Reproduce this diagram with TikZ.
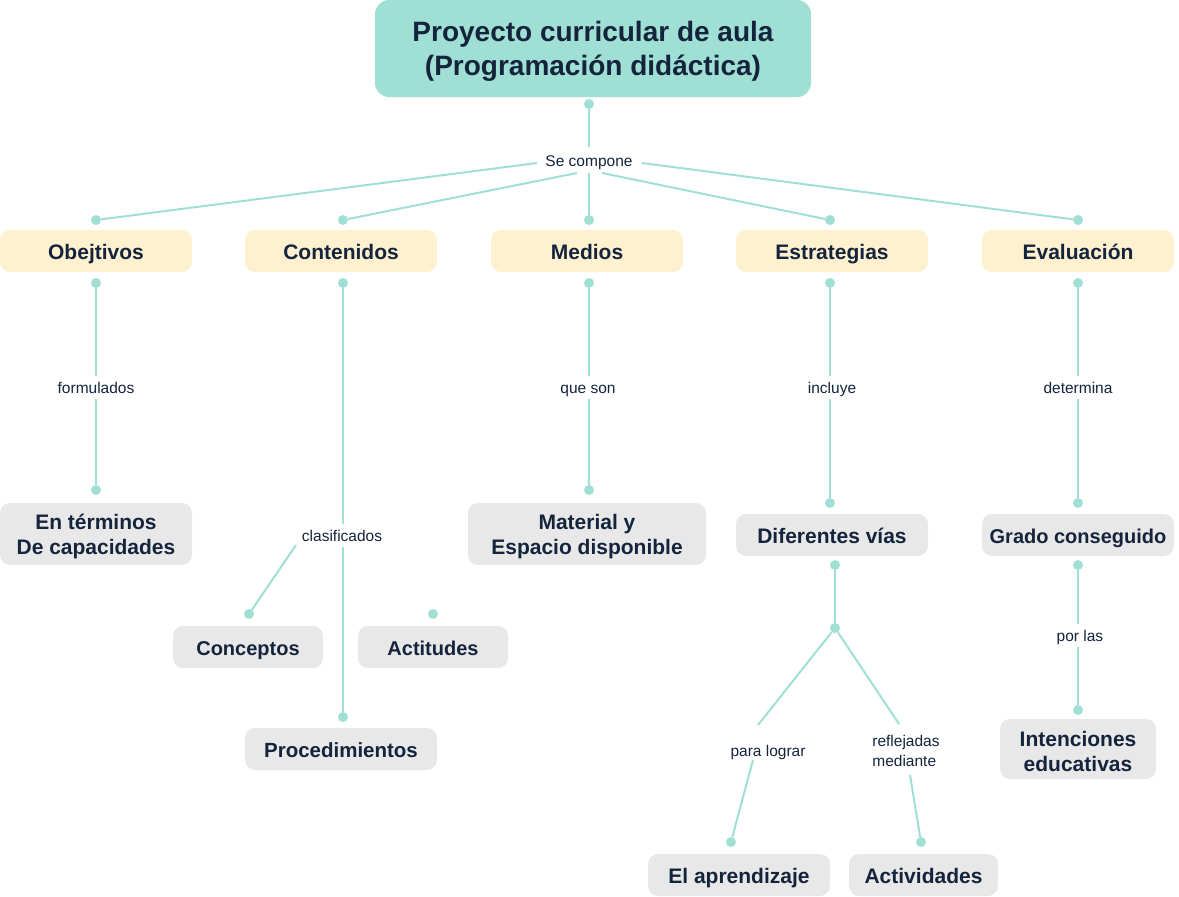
\documentclass[tikz,border=0pt]{standalone}
\usepackage{fontspec}
\setmainfont{Liberation Sans}
\definecolor{ink}{HTML}{15243D}
\definecolor{tealc}{HTML}{9FDFD4}
\definecolor{yel}{HTML}{FFF1D0}
\definecolor{gry}{HTML}{E8E8E8}
\newcommand{\lowr}[1]{\rule{0pt}{#1}}
\begin{document}
\begin{tikzpicture}[x=1pt,y=-1pt,
  box/.style={rectangle, rounded corners=10pt, inner sep=0pt, align=center, text=ink,
    font=\fontsize{21}{25}\selectfont\bfseries},
  one/.style={text height=21pt, text depth=4.5pt},
  cat/.style={box, one, fill=yel, minimum width=192pt, minimum height=42pt},
  leaf/.style={box, fill=gry, minimum height=42pt},
  dot/.style={circle, fill=tealc, inner sep=0pt, minimum size=10pt},
  lbl/.style={fill=white, text=ink, font=\fontsize{15.5}{19}\selectfont, inner xsep=3pt, inner ysep=2pt,
    text height=15.5pt, text depth=3.5pt},
  con/.style={draw=tealc, line width=2pt}]
\useasboundingbox (0,0) rectangle (1179,897);
% main box
\node[box, fill=tealc, rounded corners=14pt, minimum width=436pt, minimum height=97pt,
  font=\fontsize{28}{34}\selectfont\bfseries] (top) at (593,48.5) {\lowr{25pt}Proyecto curricular de aula\\(Programación didáctica)};
% categories
\node[cat] (obj) at (96,251) {Obejtivos};
\node[cat] (cont) at (341,251) {Contenidos};
\node[cat] (med) at (587,251) {Medios};
\node[cat] (est) at (832,251) {Estrategias};
\node[cat] (eva) at (1078,251) {Evaluación};
% leaves
\node[leaf, minimum width=192pt, minimum height=62pt] (cap) at (96,534) {\lowr{21pt}En términos\\De capacidades};
\node[leaf, minimum width=238pt, minimum height=62pt] (mat) at (587,534) {\lowr{21pt}Material y\\Espacio disponible};
\node[leaf, one, minimum width=192pt] (vias) at (832,535) {Diferentes vías};
\node[leaf, one, minimum width=192pt, font=\fontsize{20}{24}\selectfont\bfseries] (grado) at (1078,535) {Grado conseguido};
\node[leaf, one, minimum width=150pt, font=\fontsize{20}{24}\selectfont\bfseries] (conc) at (248,647) {Conceptos};
\node[leaf, one, minimum width=150pt, font=\fontsize{20}{24}\selectfont\bfseries] (act) at (433,647) {Actitudes};
\node[leaf, one, minimum width=192pt, font=\fontsize{20.5}{24}\selectfont\bfseries] (proc) at (341,749) {Procedimientos};
\node[leaf, minimum width=156pt, minimum height=60pt] (int) at (1078,749) {\lowr{21pt}Intenciones\\educativas};
\node[leaf, one, minimum width=182pt] (apr) at (739,875) {El aprendizaje};
\node[leaf, one, minimum width=149pt] (acv) at (923.5,875) {Actividades};
% dots
\node[dot] (d0) at (589,104) {};
\node[dot] (d1) at (96,220) {};
\node[dot] (d2) at (343,220) {};
\node[dot] (d3) at (589,220) {};
\node[dot] (d4) at (830,220) {};
\node[dot] (d5) at (1078,220) {};
\node[dot] (o1) at (96,283) {};
\node[dot] (o2) at (96,490) {};
\node[dot] (c1) at (343,283) {};
\node[dot] (c2) at (249,614) {};
\node[dot] (c3) at (433,614) {};
\node[dot] (c4) at (343,717) {};
\node[dot] (m1) at (589,283) {};
\node[dot] (m2) at (589,490) {};
\node[dot] (e1) at (830,283) {};
\node[dot] (e2) at (830,503) {};
\node[dot] (e3) at (835,565) {};
\node[dot] (e4) at (835,628) {};
\node[dot] (e5) at (731,842) {};
\node[dot] (e6) at (921,842) {};
\node[dot] (v1) at (1078,283) {};
\node[dot] (v2) at (1078,503) {};
\node[dot] (v3) at (1078,565) {};
\node[dot] (v4) at (1078,710) {};
% "Se compone" fan
\node[lbl] (se) at (589,160) {Se compone};
\coordinate (seL) at (537,163);
\coordinate (seR) at (642,163);
\coordinate (seBL) at (577,173);
\coordinate (seBR) at (602,173);
\coordinate (seB) at (589,173);
\coordinate (seT) at (589,147);
\draw[con] (d0) -- (seT);
\draw[con] (seL) -- (d1);
\draw[con] (seBL) -- (d2);
\draw[con] (seB) -- (d3);
\draw[con] (seBR) -- (d4);
\draw[con] (seR) -- (d5);
% vertical chains
\draw[con] (o1) -- (o2);
\draw[con] (c1) -- (c4);
\draw[con] (m1) -- (m2);
\draw[con] (e1) -- (e2);
\draw[con] (e3) -- (e4);
\draw[con] (v1) -- (v2);
\draw[con] (v3) -- (v4);
\node[lbl] (lf) at (96,387) {formulados};
\node[lbl] (lc) at (342,535) {clasificados};
\node[lbl] (lq) at (588,387) {que son};
\node[lbl] (li) at (832,387) {incluye};
\node[lbl] (ld) at (1078,387) {determina};
\node[lbl] (lp) at (1080,635) {por las};
\coordinate (lcA) at (296,545);
\draw[con] (lcA) -- (c2);
% estrategias branches
\node[text=ink, font=\fontsize{15.5}{19}\selectfont, inner sep=0pt, text height=15.5pt, text depth=3.5pt] (pl) at (768,750) {para lograr};
\node[text=ink, font=\fontsize{15.5}{20}\selectfont, inner sep=0pt, align=left] (rm) at (906,751) {reflejadas\\mediante};
\coordinate (plT) at (758,725);
\coordinate (plB) at (753,760);
\coordinate (rmT) at (899,724);
\coordinate (rmB) at (910,775);
\draw[con] (e4) -- (plT);
\draw[con] (plB) -- (e5);
\draw[con] (e4) -- (rmT);
\draw[con] (rmB) -- (e6);
\end{tikzpicture}
\end{document}
